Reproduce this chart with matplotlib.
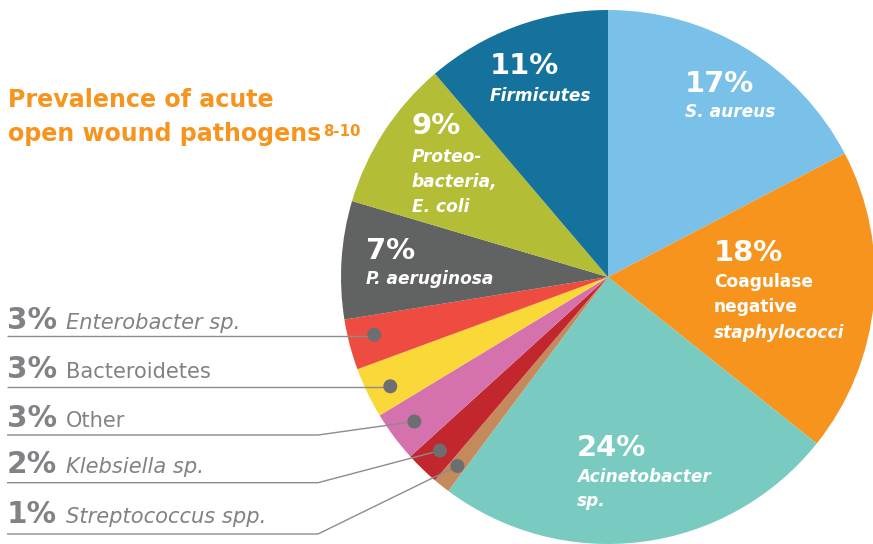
import matplotlib
matplotlib.use("Agg")
import matplotlib.pyplot as plt
from matplotlib.patches import Circle
import numpy as np

# ---------------- data ----------------
categories = ["S. aureus", "Coagulase negative staphylococci", "Acinetobacter sp.",
              "Streptococcus spp.", "Klebsiella sp.", "Other", "Bacteroidetes",
              "Enterobacter sp.", "P. aeruginosa", "Proteobacteria, E. coli", "Firmicutes"]
values = [17, 18, 24, 1, 2, 3, 3, 3, 7, 9, 11]
pct_labels = ["17%", "18%", "24%", "1%", "2%", "3%", "3%", "3%", "7%", "9%", "11%"]
colors = ["#7AC1EA", "#F7941E", "#79CAC1", "#C48A5C", "#C1272D", "#D571AC",
          "#F9D838", "#EE4C41", "#616262", "#B3BD35", "#15729D"]

title_lines = ["Prevalence of acute", "open wound pathogens"]
title_sup = "8-10"

# ---------------- layout ----------------
W, H = 873, 544
fig = plt.figure(figsize=(W / 100, H / 100), dpi=100)
ax = fig.add_axes([0, 0, 1, 1])

def Y(py):  # pixel-from-top -> data y
    return H - py

def pt(px):
    return px * 0.72

FONT = "DejaVu Sans"
R = 267
CX, CY = 608, Y(277)

wedges, _ = ax.pie(values, colors=colors, startangle=90, counterclock=False,
                   center=(CX, CY), radius=R, wedgeprops=dict(linewidth=0))
ax.set_xlim(0, W)
ax.set_ylim(0, H)
ax.set_aspect("equal")
ax.axis("off")

WHITE = "white"
# inside labels: (index, x, percent baseline, [(text, style, baseline)])
inside = [
    (0, 685, 91.7, [("S. aureus", "italic", 117)]),
    (1, 714, 260.7, [("Coagulase", "normal", 286.7), ("negative", "normal", 312),
                     ("staphylococci", "italic", 338)]),
    (2, 577, 456, [("Acinetobacter", "italic", 481.7), ("sp.", "italic", 506.5)]),
    (8, 366, 259, [("P. aeruginosa", "italic", 283.5)]),
    (9, 411.7, 134, [("Proteo-", "italic", 161.5), ("bacteria,", "italic", 186.7),
                     ("E. coli", "italic", 211.7)]),
    (10, 490, 74, [("Firmicutes", "italic", 101)]),
]
for idx, x, pb, lines in inside:
    ax.text(x, Y(pb), pct_labels[idx], color=WHITE, fontsize=pt(29), fontweight="bold",
            family=FONT, va="baseline", ha="left")
    for txt, style, b in lines:
        ax.text(x, Y(b), txt, color=WHITE, fontsize=pt(17), fontweight="bold",
                style=style, family=FONT, va="baseline", ha="left")

# outside labels with leader lines
GRAY_T = "#808285"
GRAY_L = "#8A8C8E"
GRAY_D = "#6D6E70"
outside = [  # (index, italic, text baseline, line y)
    (7, True, 329.3, 335.7),
    (6, False, 378.3, 387.3),
    (5, False, 426.7, 435),
    (4, True, 472.7, 482.7),
    (3, True, 522.7, 534),
]
for idx, ital, tb, ly in outside:
    ax.text(7, Y(tb), pct_labels[idx], color=GRAY_T, fontsize=pt(29.5), fontweight="bold",
            family=FONT, va="baseline", ha="left")
    ax.text(66, Y(tb), categories[idx], color=GRAY_T, fontsize=pt(21),
            style="italic" if ital else "normal", family=FONT, va="baseline", ha="left")
    w = wedges[idx]
    th = np.deg2rad((w.theta1 + w.theta2) / 2)
    dx, dy = CX + 0.905 * R * np.cos(th), CY + 0.905 * R * np.sin(th)
    if abs(dy - Y(ly)) < 7:  # straight horizontal leader to the dot
        dy = Y(ly) + 1
        xs, ys = [7, dx], [Y(ly), Y(ly)]
    else:
        xs, ys = [7, 318, dx], [Y(ly), Y(ly), dy]
    ax.plot(xs, ys, color=GRAY_L, lw=1.0, solid_capstyle="butt", zorder=5)
    ax.add_patch(Circle((dx, dy), 7, color=GRAY_D, zorder=6, lw=0))

# title
ORANGE = "#F7941E"
ax.text(8, Y(106.7), title_lines[0], color=ORANGE, fontsize=pt(23.8), fontweight="bold",
        family=FONT, va="baseline", ha="left")
t2 = ax.text(8, Y(141), title_lines[1], color=ORANGE, fontsize=pt(23.8), fontweight="bold",
             family=FONT, va="baseline", ha="left")
fig.canvas.draw()
bb = t2.get_window_extent(renderer=fig.canvas.get_renderer())
x_end = ax.transData.inverted().transform((bb.x1, bb.y0))[0]
ax.text(x_end + 2, Y(136), title_sup, color=ORANGE, fontsize=pt(15), fontweight="bold",
        family=FONT, va="baseline", ha="left")

fig.savefig("out.png", dpi=100, facecolor="white")
